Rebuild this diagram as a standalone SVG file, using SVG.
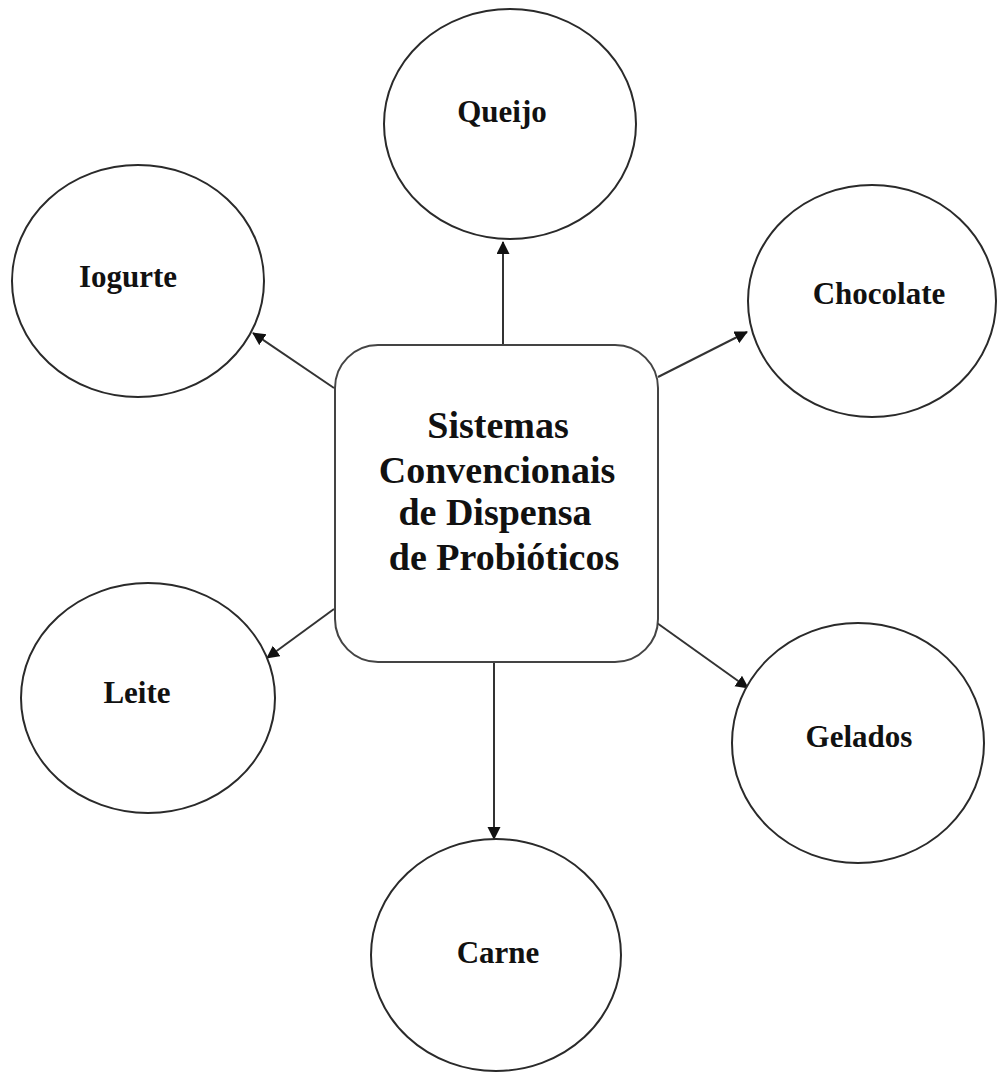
<svg xmlns="http://www.w3.org/2000/svg" width="998" height="1073" viewBox="0 0 998 1073">
<style>
.node{fill:#fff;stroke:#2a2a2a;stroke-width:2}
.box{fill:#fff;stroke:#444;stroke-width:2}
.lbl{font-family:"Liberation Serif","Times New Roman",serif;font-weight:bold;font-size:31px;fill:#111;text-anchor:middle}
.ctr{font-family:"Liberation Serif","Times New Roman",serif;font-weight:bold;font-size:38px;fill:#111;text-anchor:middle}
.edge{stroke:#333;stroke-width:2;fill:none;marker-end:url(#arr)}
</style>
<defs>
<marker id="arr" markerUnits="userSpaceOnUse" markerWidth="14" markerHeight="14" refX="12" refY="6.5" orient="auto">
<path d="M0,0 L13,6.5 L0,13 z" fill="#111"/>
</marker>
</defs>
<rect width="998" height="1073" fill="#fff"/>
<g id="connectors">
<line class="edge" x1="503" y1="345" x2="503" y2="242"/>
<line class="edge" x1="334" y1="388" x2="253" y2="333"/>
<line class="edge" x1="658" y1="377" x2="747" y2="332"/>
<line class="edge" x1="334" y1="609" x2="267" y2="658"/>
<line class="edge" x1="657" y1="623" x2="748" y2="688"/>
<line class="edge" x1="494" y1="662" x2="494" y2="839"/>
</g>
<g id="center">
<rect class="box" x="335" y="345" width="323" height="317" rx="43" ry="43"/>
<text class="ctr" x="498" y="438">Sistemas</text>
<text class="ctr" x="497" y="483">Convencionais</text>
<text class="ctr" x="495" y="525">de Dispensa</text>
<text class="ctr" x="504" y="570">de Probióticos</text>
</g>
<g id="queijo">
<ellipse class="node" cx="510" cy="124" rx="126" ry="115"/>
<text class="lbl" x="502" y="122">Queijo</text>
</g>
<g id="iogurte">
<ellipse class="node" cx="138" cy="281" rx="126" ry="116"/>
<text class="lbl" x="128" y="287">Iogurte</text>
</g>
<g id="chocolate">
<ellipse class="node" cx="872" cy="301" rx="124" ry="116"/>
<text class="lbl" x="879" y="304">Chocolate</text>
</g>
<g id="leite">
<ellipse class="node" cx="148" cy="698" rx="127" ry="115"/>
<text class="lbl" x="137" y="703">Leite</text>
</g>
<g id="gelados">
<ellipse class="node" cx="858" cy="743" rx="126" ry="120"/>
<text class="lbl" x="859" y="747">Gelados</text>
</g>
<g id="carne">
<ellipse class="node" cx="496" cy="955" rx="125" ry="116"/>
<text class="lbl" x="498" y="963">Carne</text>
</g>
</svg>
